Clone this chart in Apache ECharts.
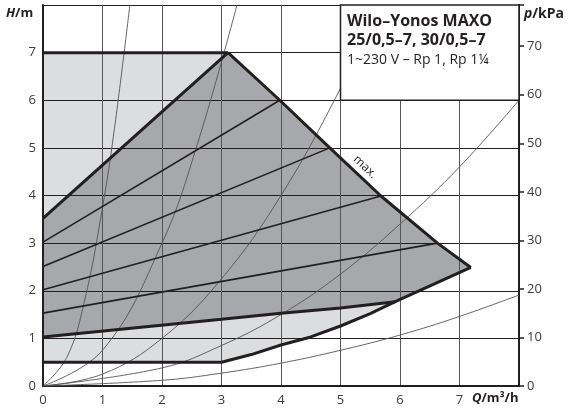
<!DOCTYPE html>
<html>
<head>
<meta charset="utf-8">
<script src="https://cdn.jsdelivr.net/npm/echarts@6/dist/echarts.min.js"></script>
<style>
  html, body { margin: 0; padding: 0; background: #fff; }
  #chart { width: 568px; height: 416px; }
</style>
</head>
<body>
<div id="chart"></div>
<script>
// axes
const qTicks = [0, 1, 2, 3, 4, 5, 6, 7]
const hTicks = [0, 1, 2, 3, 4, 5, 6, 7]
const pTicks = [0, 10, 20, 30, 40, 50, 60, 70]
const hMax = 8
const pMax = 78.48 // 8 m water column in kPa

// outline of the working range (Q, H)
const topLine = [[0, 7], [3.11, 7]]
const bottomLine = [[0, 0.5], [3, 0.5]]
const diagLine = [[0, 3.52], [3.11, 7]]
const maxCurve = [[3.11, 7], [3.98, 6], [4.82, 5], [5.68, 3.99], [6.63, 3], [7.19, 2.49]]
const lowerEnv = [[7.19, 2.49], [5.92, 1.77], [5.5, 1.52], [5, 1.26], [4.5, 1.03], [4, 0.86], [3.5, 0.66], [3, 0.5]]
const minLine = [[0, 1.03], [3, 1.40], [4, 1.53], [5, 1.64], [5.92, 1.77]]

// dp-v lines
const dpLines = [
  [[0, 3.02], [3.98, 6]],
  [[0, 2.51], [4.82, 5]],
  [[0, 2.02], [5.68, 3.99]],
  [[0, 1.53], [6.63, 3]]
]

// system curves
const sysA = [[0, 0], [0.4, 0.6], [0.7, 1.8], [1.0, 3.75], [1.2, 5.4], [1.46, 8]]
const sysB = [[0, 0], [1, 0.75], [2, 3.0], [2.6, 5.1], [3.26, 8]]
const sysC = [[0, 0], [1, 0.25], [2, 1.0], [3, 2.25], [4, 4.0], [5, 6.25], [5.66, 8]]
const sysD = [[0, 0], [2, 0.38], [3, 0.85], [4, 1.5], [5, 2.35], [6, 3.4], [7, 4.6], [8, 6.0]]
const sysE = [[0, 0], [2, 0.12], [3, 0.27], [4, 0.48], [5, 0.75], [6, 1.07], [7, 1.46], [8, 1.91]]

// legend box corners (Q, H)
const boxCorners = [[5, 6], [8, 8]]

const ink = '#231f20'
const labelColor = '#3a3a3a'
const font = '"Open Sans", "Noto Sans", sans-serif'

const envelope = [[0, 0.5], [0, 7]].concat(maxCurve, lowerEnv.slice(1))
const darkArea = [minLine[0], diagLine[0]].concat(maxCurve, lowerEnv.slice(1, 2), minLine.slice().reverse())

function polySeries(points, color, z) {
  return {
    type: 'custom', z: z, silent: true, data: [0],
    renderItem: function (params, api) {
      return {
        type: 'polygon',
        shape: { points: points.map(p => api.coord(p)) },
        style: { fill: color }
      }
    }
  }
}

function lineSeries(data, width, color, z, smooth) {
  return {
    type: 'line', data: data, symbol: 'none', silent: true, z: z,
    smooth: smooth || false,
    lineStyle: { width: width, color: color }
  }
}

const chart = echarts.init(document.getElementById('chart'))

const series = [
  polySeries(envelope, '#dcdddf', 1),
  polySeries(darkArea, '#a7a8ab', 1)
]
;[sysA, sysB, sysC, sysD, sysE].forEach(c => series.push(lineSeries(c, 0.9, '#555', 3, 0.4)))
dpLines.forEach(l => series.push(lineSeries(l, 1.6, ink, 4)))
;[topLine, bottomLine, diagLine, maxCurve, lowerEnv, minLine].forEach(l => series.push(lineSeries(l, 3, ink, 5)))

// white box with the pump name
series.push({
  type: 'custom', z: 8, silent: true, data: [0],
  renderItem: function (params, api) {
    const a = api.coord(boxCorners[0])
    const b = api.coord(boxCorners[1])
    return {
      type: 'rect',
      shape: { x: a[0], y: b[1], width: b[0] - a[0], height: a[1] - b[1] },
      style: { fill: '#fff', stroke: ink, lineWidth: 1.5 }
    }
  }
})

const option = {
  animation: false,
  backgroundColor: '#fff',
  grid: { left: 43, right: 49, top: 5, bottom: 30 },
  xAxis: {
    type: 'value', min: 0, max: hMax, interval: 1, z: 2,
    axisLine: { lineStyle: { color: ink, width: 2 } },
    axisTick: { show: false },
    axisLabel: {
      color: labelColor, fontSize: 13, fontFamily: font, margin: 8,
      formatter: v => qTicks.indexOf(v) >= 0 ? String(v) : ''
    },
    splitLine: { lineStyle: { color: '#555', width: 1 } }
  },
  yAxis: [
    {
      type: 'value', min: 0, max: hMax, interval: 1, z: 2,
      axisLine: { show: true, lineStyle: { color: ink, width: 2 } },
      axisTick: { show: false },
      axisLabel: {
        color: labelColor, fontSize: 13, fontFamily: font, margin: 7,
        formatter: v => hTicks.indexOf(v) >= 0 ? String(v) : ''
      },
      splitLine: { lineStyle: { color: ink, width: 1.2 } }
    },
    {
      type: 'value', min: 0, max: pMax, interval: 10, position: 'right', z: 2,
      axisLine: { show: true, lineStyle: { color: ink, width: 2 } },
      axisTick: { show: true, length: 5, lineStyle: { color: ink, width: 1.5 } },
      axisLabel: {
        color: labelColor, fontSize: 13, fontFamily: font, margin: 8,
        formatter: v => pTicks.indexOf(v) >= 0 ? String(v) : ''
      },
      splitLine: { show: false }
    }
  ],
  series: series,
  graphic: {
    elements: [
      {
        type: 'text', left: 347, top: 13, z: 100,
        style: { text: 'Wilo–Yonos MAXO', font: 'bold 16px ' + font, fill: ink }
      },
      {
        type: 'text', left: 347, top: 32, z: 100,
        style: { text: '25/0,5–7, 30/0,5–7', font: 'bold 16px ' + font, fill: ink }
      },
      {
        type: 'text', left: 347, top: 53, z: 100,
        style: { text: '1~230 V – Rp 1, Rp 1¼', font: '14px ' + font, fill: ink }
      },
      {
        type: 'text', x: 365, y: 167, rotation: -0.76, z: 100,
        style: { text: 'max.', font: '12px ' + font, fill: ink, align: 'center', verticalAlign: 'middle' }
      },
      {
        type: 'text', left: 6, top: 7, z: 100,
        style: {
          text: '{i|H}{n|/m}',
          rich: {
            i: { fontStyle: 'italic', fontWeight: 'bold', fontSize: 13, fontFamily: font, fill: ink },
            n: { fontWeight: 'bold', fontSize: 13, fontFamily: font, fill: ink }
          }
        }
      },
      {
        type: 'text', left: 524, top: 7, z: 100,
        style: {
          text: '{i|p}{n|/kPa}',
          rich: {
            i: { fontStyle: 'italic', fontWeight: 'bold', fontSize: 14, fontFamily: font, fill: ink },
            n: { fontWeight: 'bold', fontSize: 14, fontFamily: font, fill: ink }
          }
        }
      },
      {
        type: 'text', left: 472, top: 392, z: 100,
        style: {
          text: '{i|Q}{n|/m³/h}',
          rich: {
            i: { fontStyle: 'italic', fontWeight: 'bold', fontSize: 13, fontFamily: font, fill: ink },
            n: { fontWeight: 'bold', fontSize: 13, fontFamily: font, fill: ink }
          }
        }
      }
    ]
  }
}

chart.setOption(option)
</script>
</body>
</html>
